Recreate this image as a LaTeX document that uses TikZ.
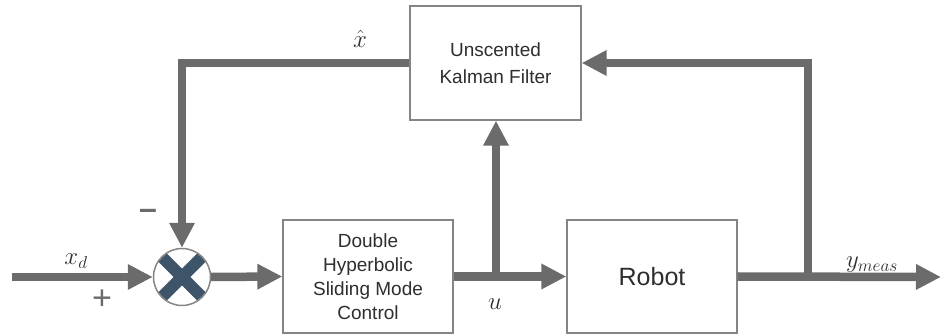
\documentclass[tikz,border=0pt]{standalone}
\usepackage{fontspec}
\setmainfont{Liberation Sans}
\usetikzlibrary{arrows.meta}
\definecolor{linegrey}{HTML}{6B6B6B}
\definecolor{boxgrey}{HTML}{858585}
\definecolor{textgrey}{HTML}{2E2E2E}
\definecolor{crossblue}{HTML}{3E5468}
\begin{document}
\begin{tikzpicture}[x=1pt,y=-1pt,
  block/.style={draw=boxgrey, line width=1.3pt, fill=white, inner sep=0pt,
    minimum width=170pt, minimum height=113pt, align=center, text=textgrey,
    font=\fontsize{19}{24}\selectfont},
  sig/.style={draw=linegrey, line width=8.5pt, line join=miter},
  arr/.style={sig, -{Triangle[length=25pt,width=24pt]}},
  mlabel/.style={text=textgrey, inner sep=0pt, anchor=base, font=\fontsize{26}{30}\selectfont},
  sign/.style={text=linegrey, inner sep=0pt, font=\fontsize{34}{36}\selectfont}]
\useasboundingbox (0,0) rectangle (942,336);

% blocks
\node[block] (ctrl) at (368,276.5) {Double\\Hyperbolic\\Sliding Mode\\Control};
\node[block, font=\fontsize{25}{29}\selectfont] (robot) at (652,276.5) {Robot};
\node[block, minimum width=171pt, minimum height=114pt,
      font=\fontsize{19}{27}\selectfont] (ukf) at (495.5,63) {Unscented\\Kalman Filter};

% summing junction
\node[circle, minimum size=58pt, inner sep=0pt] (sum) at (182,277) {};
\begin{scope}
  \clip (sum.center) circle (28pt);
  \fill[white] (sum.center) circle (28pt);
  \draw[crossblue, line width=12pt] ([shift={(-30,-30)}]sum.center) -- ([shift={(30,30)}]sum.center);
  \draw[crossblue, line width=12pt] ([shift={(-30,30)}]sum.center) -- ([shift={(30,-30)}]sum.center);
\end{scope}
\draw[boxgrey, line width=1.5pt] (sum.center) circle (28.5pt);

% signal paths
\coordinate (in) at (12,277);
\coordinate (out) at (941,277);
\coordinate (br1) at (496,277);
\coordinate (br2) at (808,277);

\draw[arr] (in) -- (sum.west);
\draw[arr] (sum.east) -- (ctrl.west);
\draw[arr] (ctrl.east) -- (robot.west);
\draw[arr] (br1) -- (br1 |- ukf.south);
\draw[arr] (robot.east) -- (out);
\draw[arr] (br2) -- (br2 |- ukf.east) -- (ukf.east);
\draw[arr] (ukf.west) -- (sum.north |- ukf.west) -- (sum.north);

% labels
\node[mlabel] (lxd) at (76,265) {$x_d$};
\node[mlabel] (lu) at (495,310) {$u$};
\node[mlabel] (ly) at (872,268) {$y_{meas}$};
\node[mlabel, font=\fontsize{24}{28}\selectfont] (lxh) at (360,48) {$\hat{x}$};
\node[sign] (lplus) at (102,300) {+};
\node[sign, font=\bfseries\fontsize{32}{34}\selectfont] (lminus) at (148,214) {–};
\end{tikzpicture}
\end{document}
